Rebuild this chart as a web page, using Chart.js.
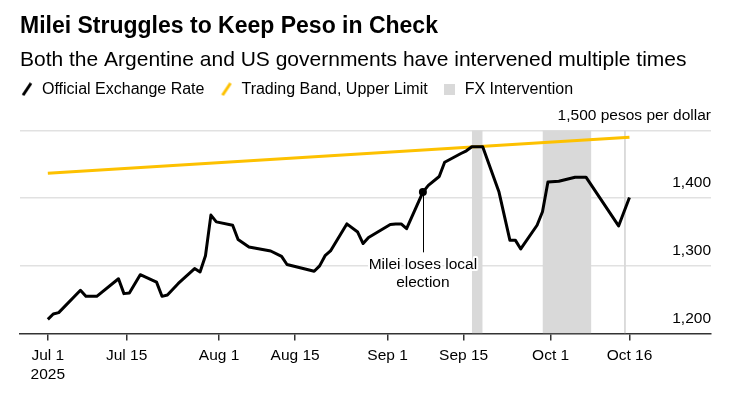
<!DOCTYPE html>
<html>
<head>
<meta charset="utf-8">
<script src="https://cdn.jsdelivr.net/npm/chart.js@4.4.1/dist/chart.umd.min.js"></script>
<style>
  html, body { margin: 0; padding: 0; background: #fff; }
  #canvas-holder { width: 735px; height: 394px; }
</style>
</head>
<body>
<div id="canvas-holder"><canvas id="chart-area" width="735" height="394"></canvas></div>
<script>
// x values are days counted from Jul 1 2025
var rateDays = [0, 1, 2, 6, 7, 9, 13, 14, 15, 17, 20, 21, 22, 24, 27, 28, 29, 30, 31, 34,
    35, 37, 41, 43, 44, 49, 50, 51, 52, 55, 57, 58, 59, 63, 64, 65, 66, 69, 70, 72,
    73, 76, 77, 78, 80, 83, 85, 86, 87, 90, 91, 92, 94, 97, 99, 105, 107];
var rateValues = [1221, 1229, 1231, 1264, 1255, 1255, 1281, 1259, 1260, 1287, 1276, 1255, 1257, 1274, 1296, 1291, 1315, 1375, 1365, 1360,
    1339, 1328, 1322, 1314, 1302, 1292, 1300, 1315, 1322, 1362, 1350, 1333, 1342, 1361, 1362, 1362, 1355, 1409, 1419, 1432,
    1453, 1466, 1470, 1476, 1476, 1409, 1338, 1338, 1325, 1360, 1380, 1424, 1425, 1431, 1431, 1359, 1401];

var bandDays = [0, 107];
var bandValues = [1437, 1490];

var fxStart = [78, 91, 106];
var fxEnd = [80, 100, 106.35];
var fxTop = 1500;

var xTickDays = [0, 14.5, 31.5, 45.5, 62.5, 76.5, 92.5, 107];
var xTickLabels = [['Jul 1', '2025'], 'Jul 15', 'Aug 1', 'Aug 15', 'Sep 1', 'Sep 15', 'Oct 1', 'Oct 16'];
var yTickValues = [1200, 1300, 1400, 1500];
var yTickLabels = ['1,200', '1,300', '1,400', '1,500 pesos per dollar'];

var electionDay = 69;
var electionNoteEnd = 1320;
var electionText = ['Milei loses local', 'election'];

var legendNames = ['Official Exchange Rate', 'Trading Band, Upper Limit', 'FX Intervention'];

var FONT = "'Liberation Sans', Arial, sans-serif";
var BLACK = '#000000';
var YELLOW = '#fdc100';
var GREY = '#d9d9d9';

Chart.defaults.font.family = FONT;
Chart.defaults.color = BLACK;

function slashIcon(color) {
    var c = document.createElement('canvas');
    c.width = 12;
    c.height = 14;
    var g = c.getContext('2d');
    g.strokeStyle = color;
    g.lineWidth = 3;
    g.beginPath();
    g.moveTo(2, 13);
    g.lineTo(10, 1);
    g.stroke();
    return c;
}
function squareIcon(color) {
    var c = document.createElement('canvas');
    c.width = 11;
    c.height = 11;
    var g = c.getContext('2d');
    g.fillStyle = color;
    g.fillRect(0, 0, 11, 11);
    return c;
}
var legendIcons = [slashIcon(BLACK), slashIcon(YELLOW), squareIcon(GREY)];

var datasets = [{
    label: legendNames[0],
    data: rateDays.map(function (d, i) { return {x: d, y: rateValues[i]}; }),
    borderColor: BLACK,
    borderWidth: 3,
    borderJoinStyle: 'round',
    tension: 0,
    fill: false,
    pointRadius: function (ctx) { return rateDays[ctx.dataIndex] === electionDay ? 4 : 0; },
    pointBackgroundColor: BLACK,
    pointBorderWidth: 0
}, {
    label: legendNames[1],
    data: bandDays.map(function (d, i) { return {x: d, y: bandValues[i]}; }),
    borderColor: YELLOW,
    borderWidth: 3,
    fill: false,
    pointRadius: 0
}];
fxStart.forEach(function (s, i) {
    datasets.push({
        label: legendNames[2],
        data: [{x: s, y: fxTop}, {x: fxEnd[i], y: fxTop}],
        borderWidth: 0,
        borderColor: 'rgba(0,0,0,0)',
        backgroundColor: GREY,
        fill: 'start',
        pointRadius: 0
    });
});

// move the legend so its first marker lines up with the title
var legendNudge = {
    id: 'legendNudge',
    afterLayout: function (chart) {
        chart.legend.left = chart.options.layout.padding.left - chart.legend.options.labels.padding;
    }
};

var electionNote = {
    id: 'electionNote',
    afterDatasetsDraw: function (chart) {
        var ctx = chart.ctx;
        var xs = chart.scales.x, ys = chart.scales.y;
        var value = rateValues[rateDays.indexOf(electionDay)];
        var px = xs.getPixelForValue(electionDay);
        var top = ys.getPixelForValue(value);
        var bottom = ys.getPixelForValue(electionNoteEnd);
        ctx.save();
        ctx.strokeStyle = BLACK;
        ctx.lineWidth = 1;
        ctx.beginPath();
        ctx.moveTo(Math.round(px) + 0.5, top);
        ctx.lineTo(Math.round(px) + 0.5, bottom);
        ctx.stroke();
        ctx.font = '15.5px ' + FONT;
        ctx.textAlign = 'center';
        ctx.textBaseline = 'middle';
        ctx.lineJoin = 'round';
        electionText.forEach(function (line, i) {
            var ty = bottom + 12 + i * 18.5;
            ctx.strokeStyle = '#ffffff';
            ctx.lineWidth = 4;
            ctx.strokeText(line, px, ty);
            ctx.fillStyle = BLACK;
            ctx.fillText(line, px, ty);
        });
        ctx.restore();
    }
};

var config = {
    type: 'line',
    data: { datasets: datasets },
    options: {
        responsive: false,
        animation: false,
        events: [],
        layout: { padding: { top: 0, left: 20, right: 24, bottom: 3.3 } },
        plugins: {
            title: {
                display: true,
                text: 'Milei Struggles to Keep Peso in Check',
                align: 'start',
                color: BLACK,
                font: { size: 23, weight: 'bold', lineHeight: 1.2 },
                padding: { top: 13, bottom: 0 }
            },
            subtitle: {
                display: true,
                text: 'Both the Argentine and US governments have intervened multiple times',
                align: 'start',
                color: BLACK,
                font: { size: 21, lineHeight: 0.6 },
                padding: { top: 13, bottom: 0 }
            },
            legend: {
                display: true,
                align: 'start',
                labels: {
                    usePointStyle: true,
                    pointStyleWidth: 14,
                    padding: 15,
                    color: BLACK,
                    font: { size: 16 },
                    generateLabels: function () {
                        return legendNames.map(function (name, i) {
                            return {
                                text: name,
                                pointStyle: legendIcons[i],
                                fillStyle: 'rgba(0,0,0,0)',
                                strokeStyle: 'rgba(0,0,0,0)',
                                lineWidth: 0,
                                hidden: false,
                                fontColor: BLACK
                            };
                        });
                    }
                }
            },
            tooltip: { enabled: false }
        },
        scales: {
            x: {
                type: 'linear',
                min: -5.12,
                max: 122,
                z: 1,
                afterBuildTicks: function (scale) {
                    scale.ticks = xTickDays.map(function (v) { return {value: v}; });
                },
                ticks: {
                    autoSkip: false,
                    maxRotation: 0,
                    padding: 6,
                    color: BLACK,
                    font: { size: 15.5, lineHeight: 1.23 },
                    callback: function (v, i) { return xTickLabels[i]; }
                },
                grid: {
                    drawOnChartArea: false,
                    drawTicks: true,
                    tickLength: 7,
                    color: '#333333',
                    lineWidth: 1.5
                },
                border: { display: true, color: '#333333', width: 1.5 }
            },
            y: {
                type: 'linear',
                position: 'right',
                min: 1200,
                max: 1534.4,
                afterBuildTicks: function (scale) {
                    scale.ticks = yTickValues.map(function (v) { return {value: v}; });
                },
                ticks: {
                    mirror: true,
                    padding: 0,
                    labelOffset: -15,
                    color: BLACK,
                    font: { size: 15.5 },
                    callback: function (v, i) { return yTickLabels[i]; }
                },
                grid: {
                    drawTicks: false,
                    lineWidth: 1.5,
                    color: function (ctx) { return ctx.tick && ctx.tick.value === 1200 ? 'rgba(0,0,0,0)' : '#e1e1e1'; }
                },
                border: { display: false }
            }
        }
    },
    plugins: [legendNudge, electionNote]
};

var ctx = document.getElementById('chart-area').getContext('2d');
window.myLine = new Chart(ctx, config);
</script>
</body>
</html>
